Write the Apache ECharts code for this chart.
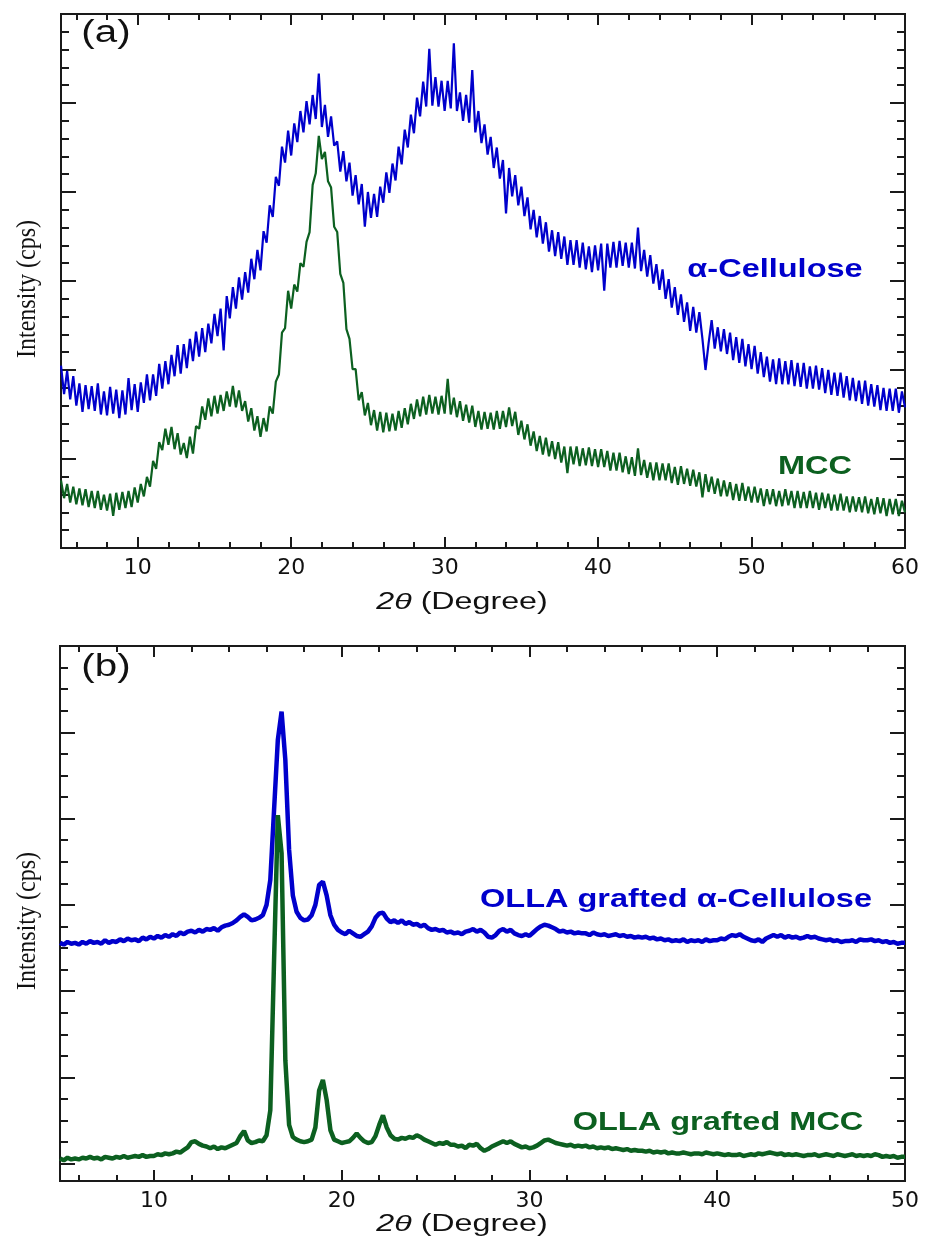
<!DOCTYPE html>
<html>
<head>
<meta charset="utf-8">
<script src="https://cdn.jsdelivr.net/npm/echarts@6/dist/echarts.min.js"></script>
<style>
  html, body { margin: 0; padding: 0; background: #fff; }
  #main { width: 927px; height: 1238px; }
</style>
</head>
<body>
<div id="main"></div>
<script>
// XRD patterns (2θ step 0.2°, intensity in arbitrary cps units)
var STEP = 0.2;
var A_START = 5;   // panel (a): 5 .. 60
var B_START = 5;   // panel (b): 5 .. 50

var cellulose = [
  205, 173, 199, 167, 193, 160, 185, 153, 183, 156,
  182, 154, 185, 150, 176, 149, 181, 151, 178, 146,
  177, 150, 191, 155, 184, 153, 186, 163, 195, 166,
  195, 171, 207, 179, 210, 184, 217, 193, 228, 196,
  229, 202, 235, 210, 243, 215, 247, 220, 252, 230,
  263, 238, 269, 222, 283, 258, 293, 269, 304, 279,
  310, 287, 325, 302, 335, 312, 356, 343, 385, 372,
  417, 407, 451, 433, 469, 441, 477, 456, 491, 467,
  502, 476, 509, 482, 533, 473, 498, 462, 485, 452,
  457, 423, 446, 412, 433, 396, 419, 386, 409, 361,
  400, 371, 398, 372, 406, 388, 422, 399, 432, 413,
  451, 431, 470, 450, 487, 466, 506, 485, 524, 496,
  561, 497, 529, 496, 525, 491, 525, 494, 567, 491,
  512, 480, 509, 478, 537, 467, 491, 455, 476, 442,
  462, 427, 450, 415, 436, 376, 427, 395, 419, 385,
  406, 373, 394, 358, 380, 349, 373, 342, 366, 333,
  357, 328, 355, 325, 350, 318, 346, 318, 346, 315,
  343, 313, 339, 310, 340, 312, 342, 289, 342, 315,
  344, 315, 345, 317, 343, 315, 343, 314, 360, 311,
  335, 305, 329, 297, 319, 290, 313, 280, 302, 270,
  293, 262, 285, 254, 276, 244, 271, 242, 265, 235,
  200, 230, 256, 224, 248, 221, 246, 218, 242, 211,
  237, 208, 235, 204, 229, 201, 227, 196, 220, 192,
  215, 187, 212, 184, 213, 184, 210, 184, 211, 182,
  208, 181, 208, 179, 204, 179, 205, 178, 202, 174,
  200, 172, 197, 171, 197, 169, 193, 166, 191, 165,
  188, 162, 188, 160, 184, 159, 183, 155, 180, 154,
  179, 154, 179, 152, 176, 158
];

var mcc = [
  76, 56, 72, 51, 69, 49, 67, 48, 66, 46,
  64, 45, 64, 43, 60, 42, 61, 36, 62, 43,
  63, 45, 64, 46, 68, 51, 72, 58, 80, 69,
  98, 89, 119, 110, 134, 116, 136, 111, 129, 105,
  118, 101, 125, 106, 137, 134, 159, 144, 168, 148,
  171, 151, 172, 154, 176, 159, 182, 158, 177, 154,
  165, 142, 157, 132, 148, 125, 146, 131, 159, 151,
  187, 195, 242, 247, 289, 269, 296, 288, 320, 316,
  344, 355, 408, 421, 463, 437, 445, 412, 405, 361,
  355, 308, 298, 246, 235, 201, 201, 166, 175, 149,
  163, 138, 155, 132, 153, 130, 152, 131, 151, 132,
  154, 135, 157, 139, 162, 145, 167, 148, 170, 150,
  172, 151, 170, 150, 171, 151, 190, 150, 169, 147,
  165, 143, 161, 141, 160, 136, 154, 133, 153, 134,
  152, 133, 154, 134, 154, 136, 158, 137, 153, 127,
  143, 122, 139, 115, 131, 109, 126, 105, 124, 103,
  120, 100, 119, 96, 114, 84, 114, 94, 114, 92,
  112, 93, 113, 92, 111, 91, 111, 91, 109, 87,
  107, 87, 107, 85, 103, 83, 102, 81, 112, 82,
  99, 79, 96, 76, 96, 76, 95, 76, 95, 73,
  91, 71, 92, 72, 89, 70, 88, 69, 85, 57,
  83, 63, 80, 61, 78, 58, 76, 58, 74, 54,
  72, 53, 73, 53, 69, 51, 69, 51, 67, 47,
  66, 49, 66, 47, 64, 47, 66, 48, 64, 45,
  64, 45, 63, 45, 64, 45, 62, 43, 62, 45,
  61, 42, 60, 42, 61, 42, 58, 40, 58, 41,
  57, 40, 58, 39, 55, 38, 57, 39, 56, 36,
  55, 38, 55, 36, 53, 40
];

var ollaCellulose = [
  276, 274, 277, 275, 276, 274, 277, 275, 278, 276,
  277, 275, 279, 276, 278, 277, 280, 278, 281, 279,
  280, 278, 282, 280, 283, 281, 284, 282, 285, 283,
  286, 284, 288, 286, 289, 290, 288, 291, 289, 292,
  291, 293, 290, 294, 296, 297, 299, 302, 306, 309,
  306, 302, 303, 305, 308, 320, 349, 430, 511, 544,
  488, 384, 331, 312, 305, 302, 303, 308, 320, 343,
  347, 331, 308, 297, 291, 288, 286, 290, 287, 284,
  283, 286, 289, 295, 305, 310, 311, 304, 300, 302,
  299, 302, 298, 300, 297, 298, 295, 297, 293, 291,
  292, 290, 291, 288, 289, 287, 288, 286, 289, 290,
  292, 289, 291, 288, 283, 282, 285, 290, 292, 289,
  291, 287, 285, 284, 286, 284, 288, 292, 295, 297,
  296, 294, 292, 289, 290, 288, 289, 287, 288, 287,
  287, 285, 288, 286, 285, 286, 284, 285, 286, 284,
  285, 283, 284, 282, 283, 282, 283, 281, 282, 280,
  281, 279, 280, 278, 279, 278, 280, 277, 279, 278,
  279, 277, 280, 278, 279, 279, 281, 280, 283, 285,
  284, 286, 283, 281, 279, 278, 280, 277, 281, 283,
  285, 283, 285, 282, 284, 282, 283, 281, 282, 284,
  282, 283, 281, 280, 279, 280, 278, 279, 277, 278,
  278, 279, 277, 280, 279, 279, 280, 278, 279, 277,
  278, 276, 277, 275, 276, 276
];

var ollaMcc = [
  26, 24, 27, 25, 26, 25, 27, 26, 28, 26,
  27, 25, 28, 27, 26, 28, 27, 29, 27, 28,
  29, 28, 30, 28, 29, 29, 31, 30, 32, 31,
  32, 34, 33, 36, 39, 45, 46, 43, 41, 40,
  38, 40, 37, 39, 38, 40, 42, 44, 52, 58,
  47, 44, 45, 47, 46, 53, 82, 256, 424, 380,
  140, 65, 51, 48, 46, 45, 46, 48, 62, 105,
  117, 94, 59, 48, 46, 44, 45, 46, 50, 55,
  50, 46, 44, 45, 52, 65, 76, 62, 53, 49,
  48, 50, 49, 51, 50, 53, 51, 48, 46, 44,
  42, 44, 43, 45, 42, 42, 40, 41, 38, 42,
  41, 43, 38, 35, 37, 40, 42, 44, 46, 44,
  46, 43, 41, 39, 40, 38, 39, 41, 44, 47,
  48, 46, 44, 43, 42, 41, 42, 40, 41, 40,
  41, 39, 40, 38, 39, 38, 39, 37, 38, 37,
  36, 37, 35, 36, 35, 35, 34, 35, 33, 34,
  33, 34, 32, 33, 32, 32, 33, 32, 31, 32,
  32, 31, 33, 32, 31, 32, 31, 30, 31, 30,
  30, 31, 29, 30, 31, 30, 32, 31, 32, 33,
  32, 31, 32, 30, 31, 30, 31, 30, 29, 30,
  30, 31, 29, 30, 31, 30, 29, 31, 30, 29,
  30, 31, 29, 30, 29, 30, 29, 31, 30, 28,
  29, 28, 29, 27, 28, 28
];

// tick positions
var xMajorA = [10, 20, 30, 40, 50, 60];
var xMajorB = [10, 20, 30, 40, 50];
var yMajorA = [0, 100, 200, 300, 400, 500, 600];
var yMajorB = [20, 120, 220, 320, 420, 520, 620];

var BLUE = '#0000cc';
var GREEN = '#0c6020';
var AXIS = '#1a1a1a';

function pairs(start, vals) {
  return vals.map(function (v, i) { return [+(start + i * STEP).toFixed(1), v]; });
}

function evens(a, b) {
  var out = [];
  for (var v = a; v <= b; v += 2) if (v % 10 !== 0) out.push(v);
  return out;
}
function minors(majors, n, lo, hi) {
  var step = (majors[1] - majors[0]) / n, out = [];
  for (var v = majors[0]; v <= hi + 1e-6; v += step) {
    if (majors.indexOf(Math.round(v)) < 0 && v >= lo) out.push(Math.round(v));
  }
  return out;
}

function xAxisPair(grid, pos, min, max, majors, minorVals, withLabel) {
  var base = {
    type: 'value', gridIndex: grid, position: pos, min: min, max: max,
    splitLine: { show: false },
    axisLine: { show: true, onZero: false, lineStyle: { color: AXIS, width: 2 } }
  };
  var major = Object.assign({}, base, {
    axisTick: { show: true, inside: true, length: 11, customValues: majors, lineStyle: { color: AXIS, width: 2 } },
    axisLabel: withLabel
      ? { show: true, customValues: majors, margin: 9, color: '#111', fontSize: 22, fontFamily: 'DejaVu Sans' }
      : { show: false }
  });
  var minor = Object.assign({}, base, {
    axisTick: { show: true, inside: true, length: 6, customValues: minorVals, lineStyle: { color: AXIS, width: 2 } },
    axisLabel: { show: false }
  });
  return [major, minor];
}

function yAxisPair(grid, pos, min, max, majors, minorVals) {
  var base = {
    type: 'value', gridIndex: grid, position: pos, min: min, max: max,
    splitLine: { show: false }, axisLabel: { show: false },
    axisLine: { show: true, onZero: false, lineStyle: { color: AXIS, width: 2 } }
  };
  return [
    Object.assign({}, base, { axisTick: { show: true, inside: true, length: 15, customValues: majors, lineStyle: { color: AXIS, width: 2 } } }),
    Object.assign({}, base, { axisTick: { show: true, inside: true, length: 8, customValues: minorVals, lineStyle: { color: AXIS, width: 2 } } })
  ];
}

var xMinorA = evens(6, 60);
var xMinorB = evens(6, 50);
var yMinorA = minors(yMajorA, 5, 0, 600);
var yMinorB = minors(yMajorB, 4, 0, 620);

// axis order: grid0 x: 0 bottom,1 bottom minor,2 top,3 top minor; grid1 x: 4..7
var xAxes = [].concat(
  xAxisPair(0, 'bottom', 5, 60, xMajorA, xMinorA, true),
  xAxisPair(0, 'top', 5, 60, xMajorA, xMinorA, false),
  xAxisPair(1, 'bottom', 5, 50, xMajorB, xMinorB, true),
  xAxisPair(1, 'top', 5, 50, xMajorB, xMinorB, false)
);
var yAxes = [].concat(
  yAxisPair(0, 'left', 0, 600, yMajorA, yMinorA),
  yAxisPair(0, 'right', 0, 600, yMajorA, yMinorA),
  yAxisPair(1, 'left', 0, 620, yMajorB, yMinorB),
  yAxisPair(1, 'right', 0, 620, yMajorB, yMinorB)
);

function label(text, x, y, color, size, weight) {
  return {
    type: 'text', x: x, y: y, scaleX: 1.3, silent: true,
    style: {
      text: text, fill: color, fontSize: size, fontWeight: weight || 'bold', fontFamily: 'Liberation Sans',
      textAlign: 'center', textVerticalAlign: 'middle', align: 'center', verticalAlign: 'middle'
    }
  };
}

function xTitle(y) {
  return {
    type: 'text', x: 462, y: y, scaleX: 1.4, silent: true,
    style: {
      text: '{i|2θ} (Degree)', fill: '#111', fontSize: 23, fontFamily: 'Liberation Sans',
      rich: { i: { fontStyle: 'italic', fontSize: 23, fontFamily: 'Liberation Sans', fill: '#111' } },
      textAlign: 'center', textVerticalAlign: 'middle', align: 'center', verticalAlign: 'middle'
    }
  };
}

function yTitle(y) {
  return {
    type: 'text', x: 28, y: y, rotation: Math.PI / 2, scaleY: 1.1, silent: true,
    style: {
      text: 'Intensity (cps)', fill: '#111', fontSize: 24, fontFamily: 'Liberation Serif',
      textAlign: 'center', textVerticalAlign: 'middle', align: 'center', verticalAlign: 'middle'
    }
  };
}

var chart = echarts.init(document.getElementById('main'));

chart.setOption({
  animation: false,
  backgroundColor: '#fff',
  grid: [
    { left: 61, top: 14, width: 844, height: 534 },
    { left: 60, top: 646, width: 845, height: 535 }
  ],
  xAxis: xAxes,
  yAxis: yAxes,
  series: [
    { name: 'α-Cellulose', type: 'line', xAxisIndex: 0, yAxisIndex: 0, showSymbol: false,
      data: pairs(A_START, cellulose), lineStyle: { color: BLUE, width: 2.2 }, itemStyle: { color: BLUE } },
    { name: 'MCC', type: 'line', xAxisIndex: 0, yAxisIndex: 0, showSymbol: false,
      data: pairs(A_START, mcc), lineStyle: { color: GREEN, width: 2.2 }, itemStyle: { color: GREEN } },
    { name: 'OLLA grafted α-Cellulose', type: 'line', xAxisIndex: 4, yAxisIndex: 4, showSymbol: false,
      data: pairs(B_START, ollaCellulose), lineStyle: { color: BLUE, width: 4.5 }, itemStyle: { color: BLUE } },
    { name: 'OLLA grafted MCC', type: 'line', xAxisIndex: 4, yAxisIndex: 4, showSymbol: false,
      data: pairs(B_START, ollaMcc), lineStyle: { color: GREEN, width: 4.5 }, itemStyle: { color: GREEN } }
  ],
  graphic: [
    label('(a)', 106, 33, '#111', 31, 'normal'),
    label('(b)', 106, 667, '#111', 31, 'normal'),
    label('α-Cellulose', 775, 270, BLUE, 25),
    label('MCC', 815, 467, GREEN, 25),
    label('OLLA grafted α-Cellulose', 676, 900, BLUE, 25),
    label('OLLA grafted MCC', 718, 1123, GREEN, 25),
    xTitle(603),
    xTitle(1225),
    yTitle(289),
    yTitle(921)
  ]
});
</script>
</body>
</html>
